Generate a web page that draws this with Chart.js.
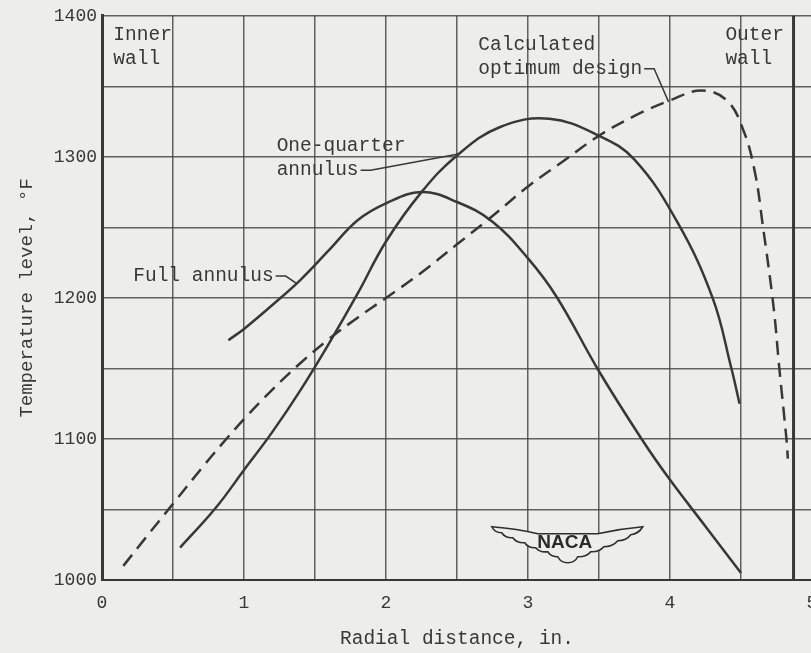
<!DOCTYPE html>
<html>
<head>
<meta charset="utf-8">
<title>Temperature level vs radial distance</title>
<script src="https://cdn.jsdelivr.net/npm/chart.js@4.4.1/dist/chart.umd.min.js"></script>
<style>
  html, body { margin: 0; padding: 0; background: #ededeb; overflow: hidden; }
  #wrap { width: 830px; height: 653px; }
</style>
</head>
<body>
<div id="wrap"><canvas id="tempChart" width="830" height="653"></canvas></div>
<script>
// tick labels
const xTickLabels = [0, 1, 2, 3, 4, 5];
const yTickLabels = [1000, 1100, 1200, 1300, 1400];

// Full annulus
const fullX = [0.89, 1.0, 1.2, 1.4, 1.6, 1.8, 2.0, 2.25, 2.5, 2.75, 3.0, 3.2, 3.5, 3.8, 4.0, 4.25, 4.5];
const fullY = [1170, 1178, 1195, 1213, 1234, 1255, 1267, 1275, 1268, 1254, 1228, 1201, 1148, 1100, 1071, 1038, 1005];

// One-quarter annulus
const quarterX = [0.55, 0.8, 1.0, 1.2, 1.4, 1.6, 1.8, 2.0, 2.25, 2.5, 2.8, 3.15, 3.5, 3.75, 4.05, 4.3, 4.43, 4.49];
const quarterY = [1023, 1051, 1078, 1105, 1135, 1168, 1203, 1240, 1275, 1301, 1321, 1327, 1315, 1298, 1254, 1200, 1151, 1125];

// Calculated optimum design (dashed)
const optX = [0.15, 0.3, 0.5, 0.7, 0.85, 1.0, 1.2, 1.4, 1.6, 1.8, 2.0, 2.25, 2.5, 2.75, 3.0, 3.25, 3.5, 3.75, 4.0, 4.22, 4.4, 4.52, 4.6, 4.65, 4.73, 4.77, 4.82, 4.83];
const optY = [1010, 1029, 1054, 1079, 1097, 1114, 1135, 1154, 1171, 1186, 1200, 1218, 1238, 1258, 1279, 1297, 1315, 1329, 1340, 1347, 1340, 1318, 1288, 1254, 1193, 1150, 1100, 1086];

// outer wall position, in.
const outerWall = 4.87;

const paper = '#ededeb';
const ink = '#383838';
const gridInk = 'rgba(72, 72, 72, 0.85)';
const typewriter = "'Liberation Mono', 'Courier New', monospace";

const toPoints = (xs, ys) => xs.map((x, i) => ({ x: x, y: ys[i] }));

// text notes with leader lines, anchored in data units
const notes = [
  { lines: ['Inner', 'wall'], x: 0.08, y: 1386.5 },
  { lines: ['Outer', 'wall'], x: 4.39, y: 1386.5 },
  { lines: ['Calculated', 'optimum design'], x: 2.65, y: 1379.5, to: { x: 3.99, y: 1339 } },
  { lines: ['One-quarter', 'annulus'], x: 1.23, y: 1307.5, to: { x: 2.51, y: 1302 } },
  { lines: ['Full annulus'], x: 0.22, y: 1215.5, to: { x: 1.375, y: 1210 } },
];
const logoAt = { x: 3.28, y: 1025 };

const paperPlugin = {
  id: 'paper',
  beforeDraw(chart) {
    const c = chart.ctx;
    c.save();
    c.fillStyle = paper;
    c.fillRect(0, 0, chart.width, chart.height);
    c.restore();
  },
};

const wallPlugin = {
  id: 'outerWall',
  beforeDatasetsDraw(chart) {
    const { ctx: c, chartArea: a, scales } = chart;
    const px = scales.x.getPixelForValue(outerWall);
    c.save();
    c.strokeStyle = ink;
    c.lineWidth = 3;
    c.beginPath();
    c.moveTo(px, a.top);
    c.lineTo(px, a.bottom);
    c.stroke();
    c.restore();
  },
};

const notePlugin = {
  id: 'notes',
  afterDatasetsDraw(chart) {
    const { ctx: c, scales } = chart;
    c.save();
    c.font = '19.5px ' + typewriter;
    c.fillStyle = ink;
    c.strokeStyle = ink;
    c.lineWidth = 1.5;
    c.textBaseline = 'middle';
    c.textAlign = 'left';
    notes.forEach((n) => {
      const x0 = scales.x.getPixelForValue(n.x);
      const y0 = scales.y.getPixelForValue(n.y);
      n.lines.forEach((t, i) => c.fillText(t, x0, y0 + i * 24));
      if (n.to) {
        const last = n.lines[n.lines.length - 1];
        const ly = y0 + (n.lines.length - 1) * 24;
        const lx = x0 + c.measureText(last).width + 2;
        c.beginPath();
        c.moveTo(lx, ly);
        c.lineTo(lx + 10, ly);
        c.lineTo(scales.x.getPixelForValue(n.to.x), scales.y.getPixelForValue(n.to.y));
        c.stroke();
      }
    });
    c.restore();
  },
};

// NACA wing badge
const logoPlugin = {
  id: 'nacaLogo',
  afterDatasetsDraw(chart) {
    const { ctx: c, scales } = chart;
    const cx = scales.x.getPixelForValue(logoAt.x);
    const cy = scales.y.getPixelForValue(logoAt.y);
    c.save();
    c.translate(cx, cy);
    c.fillStyle = paper;
    c.strokeStyle = '#2e2e2e';
    c.lineWidth = 1.6;
    c.beginPath();
    c.moveTo(-76, -18);
    c.quadraticCurveTo(-50, -16, -30, -11);
    c.lineTo(30, -11);
    c.quadraticCurveTo(52, -16, 75, -18);
    // lower edge, scalloped
    const right = [[63, -10], [50, -4], [36, 2], [23, 7], [10, 12], [0, 18]];
    let px = 75, py = -18;
    right.forEach(([x, y]) => {
      c.quadraticCurveTo((px + x) / 2 + 2, (py + y) / 2 + 3, x, y);
      px = x; py = y;
    });
    const left = [[-10, 12], [-20, 7], [-32, 3], [-43, -2], [-55, -7], [-66, -12], [-76, -18]];
    left.forEach(([x, y]) => {
      c.quadraticCurveTo((px + x) / 2 - 2, (py + y) / 2 + 3, x, y);
      px = x; py = y;
    });
    c.closePath();
    c.fill();
    c.stroke();
    c.fillStyle = '#2a2a2a';
    c.font = "bold 19px 'Liberation Sans', sans-serif";
    c.textAlign = 'center';
    c.textBaseline = 'middle';
    c.fillText('NACA', -3, -2);
    c.restore();
  },
};

const ctx = document.getElementById('tempChart').getContext('2d');

const tempChart = new Chart(ctx, {
  type: 'line',
  data: {
    datasets: [
      {
        label: 'Full annulus',
        data: toPoints(fullX, fullY),
        borderColor: ink,
        borderWidth: 2.5,
        pointRadius: 0,
        fill: false,
        tension: 0.4,
      },
      {
        label: 'One-quarter annulus',
        data: toPoints(quarterX, quarterY),
        borderColor: ink,
        borderWidth: 2.5,
        pointRadius: 0,
        fill: false,
        tension: 0.4,
      },
      {
        label: 'Calculated optimum design',
        data: toPoints(optX, optY),
        borderColor: ink,
        borderWidth: 2.5,
        borderDash: [14, 8],
        pointRadius: 0,
        fill: false,
        tension: 0.4,
      },
    ],
  },
  options: {
    responsive: false,
    animation: false,
    layout: { padding: { top: 14, right: 18, left: 0, bottom: 0 } },
    plugins: { legend: { display: false }, tooltip: { enabled: false } },
    scales: {
      x: {
        type: 'linear',
        min: 0,
        max: 5,
        ticks: {
          stepSize: 0.5,
          autoSkip: false,
          maxRotation: 0,
          padding: 12,
          color: ink,
          font: { family: typewriter, size: 18 },
          callback: (v) => (xTickLabels.includes(v) ? String(v) : ''),
        },
        grid: { color: gridInk, lineWidth: 1.5, drawTicks: false },
        border: { color: ink, width: 2 },
        title: {
          display: true,
          text: 'Radial distance, in.',
          color: ink,
          font: { family: typewriter, size: 19.5 },
          padding: { top: 0, bottom: 2 },
        },
        afterFit: (s) => { s.height = 73; },
      },
      y: {
        type: 'linear',
        min: 1000,
        max: 1400,
        ticks: {
          stepSize: 50,
          autoSkip: false,
          padding: 5,
          color: ink,
          font: { family: typewriter, size: 18 },
          callback: (v) => (yTickLabels.includes(v) ? String(v) : ''),
        },
        grid: { color: gridInk, lineWidth: 1.5, drawTicks: false },
        border: { color: ink, width: 3 },
        title: {
          display: true,
          text: 'Temperature level, °F',
          color: ink,
          font: { family: typewriter, size: 19 },
          padding: { top: 16, bottom: 0 },
        },
        afterFit: (s) => { s.width = 102; },
      },
    },
  },
  plugins: [paperPlugin, wallPlugin, notePlugin, logoPlugin],
});
</script>
</body>
</html>
